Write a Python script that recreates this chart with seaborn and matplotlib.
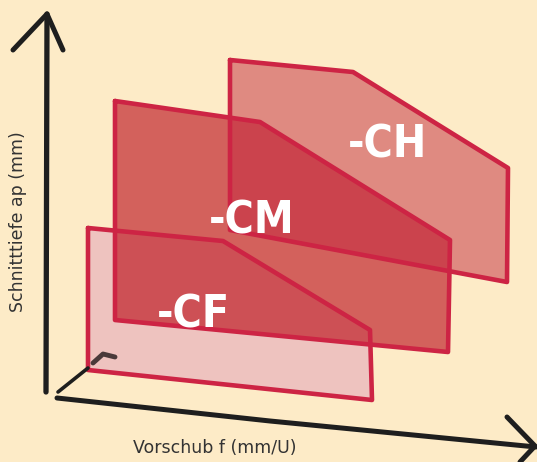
import matplotlib
matplotlib.use("Agg")
import matplotlib.pyplot as plt
from matplotlib.patches import Polygon
import numpy as np
import pandas as pd
import seaborn as sns

sns.set_theme(style="white")
plt.rcParams['font.family'] = ['DejaVu Sans']

# ---- data (feed f, depth ap in drawing units) ----
series = ["-CH", "-CM", "-CF"]
ch_f = [230, 353, 508, 507, 230]
ch_ap = [402, 390, 294, 180, 232]
cm_f = [115, 260, 450, 448, 115]
cm_ap = [361, 340, 222, 110, 142]
cf_f = [88, 223, 370, 372, 88]
cf_ap = [234, 221, 132, 62, 92]

label_f = [348, 209, 157]
label_ap = [305, 229, 135]

# axis sketch strokes
yaxis_f = [46, 47]
yaxis_ap = [70, 448]
yhead_f = [13, 47, 63]
yhead_ap = [412, 448, 412]
xaxis_f = [57, 270, 536]
xaxis_ap = [64, 41, 15]
xhead_f = [507, 535, 520]
xhead_ap = [45, 16, 0]
zaxis_f = [58, 88]
zaxis_ap = [70, 94]
smudge_f = [93, 103, 115]
smudge_ap = [99, 108, 105]

bg = "#FDEBC7"
edge = "#CD2444"
col_ch = "#DF8A81"
col_cm = "#D3615C"
col_cf = "#EEC3BF"
col_chcm = "#CB434D"
col_cmcf = "#CD5055"

fig = plt.figure(figsize=(5.37, 4.62), dpi=100, facecolor=bg)
ax = fig.add_axes([0, 0, 1, 1])
ax.set_facecolor(bg)
ax.set_xlim(0, 537)
ax.set_ylim(0, 462)
ax.axis("off")

def xy(f, ap):
    return np.column_stack([f, ap])

# fills
for f, ap, c in [(ch_f, ch_ap, col_ch), (cm_f, cm_ap, col_cm), (cf_f, cf_ap, col_cf)]:
    ax.add_patch(Polygon(xy(f, ap), closed=True, facecolor=c, lw=0, zorder=1))

# overlaps
clip_cm = Polygon(xy(cm_f, cm_ap), closed=True, transform=ax.transData)
p1 = Polygon(xy(ch_f, ch_ap), closed=True, facecolor=col_chcm, lw=0, zorder=2)
ax.add_patch(p1)
p1.set_clip_path(clip_cm)
clip_cm2 = Polygon(xy(cm_f, cm_ap), closed=True, transform=ax.transData)
p2 = Polygon(xy(cf_f, cf_ap), closed=True, facecolor=col_cmcf, lw=0, zorder=2)
ax.add_patch(p2)
p2.set_clip_path(clip_cm2)

# outlines
for f, ap in [(ch_f, ch_ap), (cm_f, cm_ap), (cf_f, cf_ap)]:
    df = pd.DataFrame({"f": f + f[:1], "ap": ap + ap[:1]})
    sns.lineplot(data=df, x="f", y="ap", sort=False, estimator=None,
                 color=edge, lw=3.3, ax=ax, zorder=3)

# sketch axes
for f, ap, lw, c in [(yaxis_f, yaxis_ap, 3.8, "#1E1E1E"), (yhead_f, yhead_ap, 3.6, "#1E1E1E"),
                     (xaxis_f, xaxis_ap, 3.6, "#1E1E1E"), (xhead_f, xhead_ap, 3.6, "#1E1E1E"),
                     (zaxis_f, zaxis_ap, 2.6, "#1E1E1E"), (smudge_f, smudge_ap, 3.5, "#4A3A3A")]:
    df = pd.DataFrame({"f": f, "ap": ap})
    sns.lineplot(data=df, x="f", y="ap", sort=False, estimator=None,
                 color=c, lw=lw, ax=ax, zorder=4)
ax.set_xlabel("")
ax.set_ylabel("")

for s, lf, la in zip(series, label_f, label_ap):
    ax.text(lf, la, s, ha="left", va="baseline", color="white", fontsize=32,
            fontweight="bold", fontstretch="condensed", family="DejaVu Sans", zorder=5)

ax.text(215, 14, "Vorschub f (mm/U)", ha="center", va="center", color="#333333",
        fontsize=12.5, zorder=5)
ax.text(18, 240, "Schnitttiefe ap (mm)", ha="center", va="center", rotation=90,
        color="#333333", fontsize=12.5, zorder=5)

fig.savefig("out.png", dpi=100, facecolor=bg)
